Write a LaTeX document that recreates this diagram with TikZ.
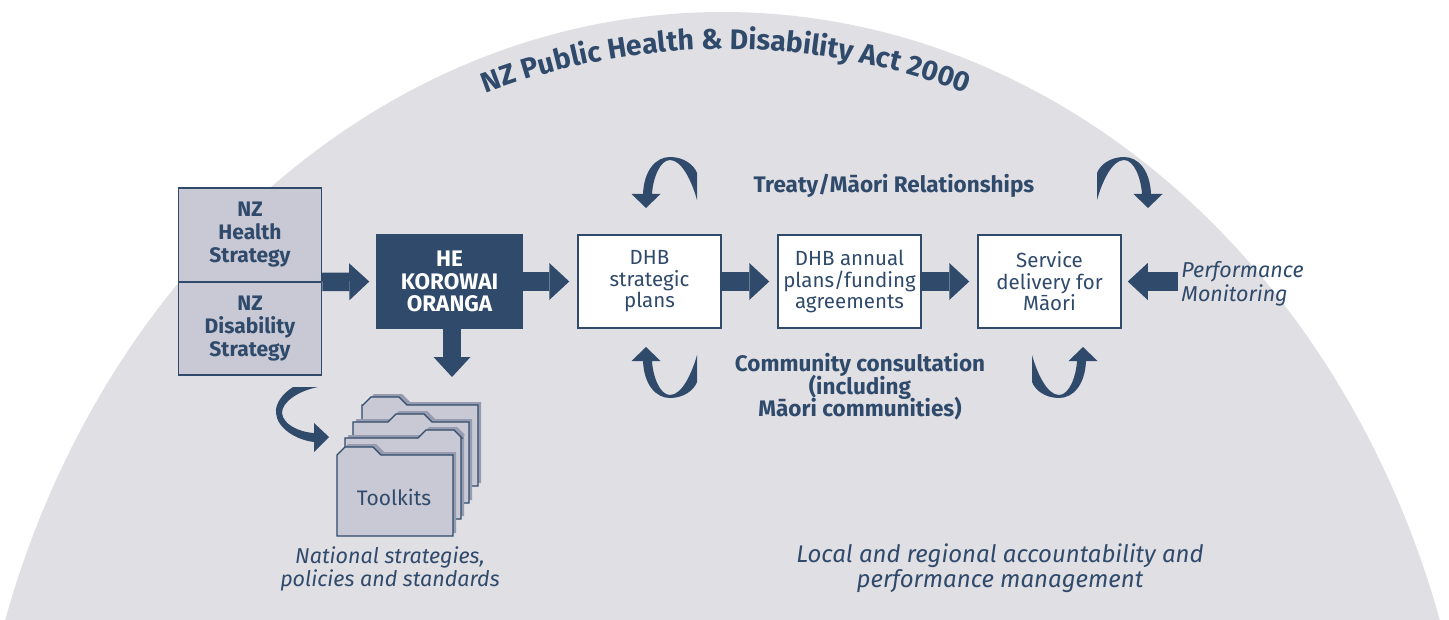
\documentclass[tikz,border=0pt]{standalone}
\usepackage{fontspec}
\setmainfont{Fira Sans}
\usetikzlibrary{arrows.meta,decorations.text}
\definecolor{navy}{HTML}{2F4A6B}
\definecolor{domefill}{HTML}{E0DFE4}
\definecolor{boxgray}{HTML}{C8C9D4}
\definecolor{fshadow}{HTML}{979BAF}
\newcommand{\tightLines}{\lineskiplimit-6pt\relax\lineskip0pt\relax}
\newcommand{\loopArrow}[1]{%
  \begin{scope}[#1]
    \fill[navy] (-3,-14) .. controls (-2,-38) and (10,-51) .. (24,-51)
      .. controls (38,-51) and (48,-43) .. (51,-35) -- (51,-8)
      .. controls (46,-26) and (36,-48) .. (24,-48)
      .. controls (14,-48) and (7,-30) .. (6,-14)
      -- (14.5,-14) -- (0,0) -- (-14.5,-14) -- cycle;
  \end{scope}}
\newcommand{\tkFolder}[2]{%
  \begin{scope}[shift={#1}]
    \begin{scope}[shift={(3,-3)}]
      \fill[fshadow] (0,81) -- (0,0) -- (#2,0) -- ({#2+8},-8) -- ({#2+36},-8) -- ({#2+44},0) -- (116,0) -- (116,81) -- cycle;
    \end{scope}
    \filldraw[folderbox] (0,81) -- (0,0) -- (#2,0) -- ({#2+8},-8) -- ({#2+36},-8) -- ({#2+44},0) -- (116,0) -- (116,81) -- cycle;
  \end{scope}}
\begin{document}
\begin{tikzpicture}[x=0.5pt,y=-0.5pt,
  basebox/.style={draw=navy, line width=0.75pt, minimum width=71.5pt, minimum height=46.5pt, inner sep=0pt, align=center},
  nzbox/.style={basebox, fill=boxgray, text=navy, font=\bfseries\fontsize{10.5}{11.5}\selectfont},
  hebox/.style={basebox, fill=navy, text=white, minimum width=72.5pt, font=\bfseries\fontsize{11.25}{11.25}\selectfont},
  wbox/.style={basebox, fill=white, text=navy, font=\fontsize{10.25}{10.75}\selectfont},
  lblb/.style={text=navy, align=center, inner sep=0pt, font=\bfseries\fontsize{11.25}{11.25}\selectfont\tightLines},
  lbli/.style={text=navy, align=center, inner sep=0pt, font=\itshape\fontsize{10.75}{11.75}\selectfont},
  lbln/.style={text=navy, align=center, inner sep=0pt, font=\fontsize{10.5}{11}\selectfont},
  folderbox/.style={draw=navy, fill=boxgray, line width=0.6pt, line join=miter},
  barrow/.style={draw=navy, line width=9.25pt, -{Triangle[width=18.5pt,length=10pt,line width=0pt,color=navy,fill=navy]}, shorten >=4pt}
]
\useasboundingbox (0,0) rectangle (1449,620);
\begin{scope}
  \clip (0,0) rectangle (1449,620);
  \fill[domefill] (722.5,892) ellipse [x radius=754, y radius=880];
\end{scope}

% title along the arc
\path[decorate, decoration={text along path, text align=center, text color=navy,
  text={|\bfseries\fontsize{14.2}{15}\selectfont|NZ Public Health {\&} Disability Act 2000}}]
  (450,108.5) .. controls (625.2,29.3) and (826.8,29.3) .. (1002,108.5);

% loop arrows
\loopArrow{shift={(646,208)}}
\loopArrow{shift={(1148,208)},xscale=-1}
\loopArrow{shift={(646,347)},yscale=-1}
\loopArrow{shift={(1083,347)},xscale=-1,yscale=-1}

% boxes
\node[nzbox] (nzh) at (250,234.75) {NZ\\Health\\Strategy};
\node[nzbox] (nzd) at (250,328.25) {NZ\\Disability\\Strategy};
\node[hebox] (he) at (449.5,281.5) {HE\\KOROWAI\\ORANGA};
\node[wbox] (dhb1) at (649.5,281.5) {DHB\\strategic\\plans};
\node[wbox] (dhb2) at (849.5,281.5) {DHB annual\\plans/funding\\agreements};
\node[wbox] (svc) at (1049.5,281.5) {Service\\delivery for\\Māori};

% block arrows
\draw[barrow, shorten >=3.5pt] (nzh.south east) -- (he.west);
\draw[barrow] (he.east) -- (dhb1.west);
\draw[barrow] (dhb1.east) -- (dhb2.west);
\draw[barrow] (dhb2.east) -- (svc.west);
\coordinate (pmstart) at (1178,281.5);
\draw[barrow, shorten >=3pt] (pmstart) -- (svc.east);
\coordinate (tkend) at (452,377);
\draw[barrow, shorten >=0pt] (he.south -| tkend) -- (tkend);

% folder arrow
\fill[navy] (293,387) .. controls (282,394) and (275,404) .. (276,413)
  .. controls (277,428) and (296,440) .. (314,442) -- (314,452) -- (329,437) -- (314,423) -- (314,433)
  .. controls (298,432) and (283,424) .. (282,413)
  .. controls (282,402) and (298,391) .. (318,387) -- cycle;

% folders
\tkFolder{(362,405)}{1}
\tkFolder{(353,422)}{35}
\tkFolder{(345,438)}{73}
\tkFolder{(337,455)}{0}
\node[lbln] (toolkits) at (394,497) {Toolkits};

% labels
\node[lblb] (treaty) at (894,186) {Treaty/Māori Relationships};
\node[lblb] (community) at (860,387) {Community consultation\\(including\\Māori communities)};
\node[lbli, anchor=west, align=left] (perf) at (1181,284) {Performance\\Monitoring};
\node[lbli] (national) at (390,569) {National strategies,\\policies and standards};
\node[lbli, font=\itshape\fontsize{12}{11.5}\selectfont] (local) at (1000,568.5) {Local and regional accountability and\\performance management};
\end{tikzpicture}
\end{document}
